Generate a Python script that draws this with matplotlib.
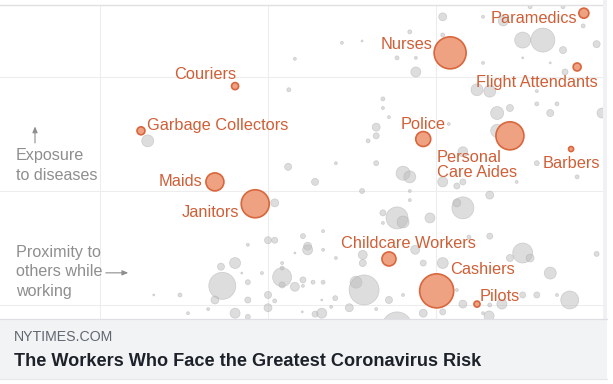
import matplotlib
matplotlib.use("Agg")
import matplotlib.pyplot as plt
from matplotlib.patches import Rectangle
from matplotlib.lines import Line2D

# ---------------- data ----------------
# Highlighted occupations: proximity score (x), exposure score (y), workers (thousands)
hl_names = ["Paramedics", "Nurses", "Flight Attendants", "Couriers", "Garbage Collectors",
            "Police", "Personal\nCare Aides", "Barbers", "Maids", "Janitors",
            "Childcare Workers", "Cashiers", "Pilots"]
hl_x = [97.0, 77.1, 96.0, 45.1, 31.1, 73.1, 86.0, 95.1, 42.1, 48.1, 68.0, 75.1, 81.1]
hl_y = [89.0, 80.3, 77.2, 73.0, 63.2, 61.4, 62.1, 59.2, 52.0, 47.2, 35.1, 28.1, 25.2]
hl_emp = [300, 3070, 190, 150, 190, 670, 2350, 75, 970, 2350, 590, 3470, 110]

# Other occupations
oth_x = [54.0, 53.1, 32.1, 76.0, 82.0, 85.0, 89.0, 93.9, 71.1, 76.0, 61.0, 64.0, 69.2, 72.0,
         72.0, 87.9, 90.9, 93.9, 98.9, 82.0, 87.9, 92.0, 94.2, 96.9, 81.1, 83.0, 90.0, 67.1,
         67.1, 68.0, 66.1, 66.1, 64.9, 76.9, 84.1, 86.0, 84.1, 90.0, 93.0, 92.0, 99.7, 79.0,
         60.1, 66.1, 70.1, 71.1, 57.0, 76.0, 78.1, 79.0, 90.0, 87.0, 96.0, 64.0, 71.1, 71.1,
         83.0, 79.0, 78.1, 67.1, 69.2, 70.1, 74.1, 67.1, 58.2, 83.0, 79.9, 55.2, 55.9, 55.9,
         58.2, 64.1, 64.1, 60.1, 71.9, 87.9, 89.0, 86.0, 98.9, 76.0, 73.1, 92.0, 55.2, 56.7,
         58.2, 63.1, 64.3, 68.0, 70.1, 78.1, 79.0, 83.0, 84.8, 87.9, 90.0, 93.0, 94.9, 57.0,
         60.0, 62.1, 69.2, 73.1, 76.0, 82.0, 82.9, 66.1, 53.0, 51.0, 47.0, 50.0, 51.0, 54.0,
         43.0, 45.1, 46.1, 49.1, 52.1, 52.1, 52.1, 52.1, 54.0, 55.2, 43.2, 47.0, 42.1, 36.9,
         33.0, 47.0, 50.0, 51.0, 58.0, 50.0, 41.1, 38.1, 45.1, 47.0, 58.0, 55.1, 59.4]
oth_y = [79.0, 72.2, 61.0, 88.2, 88.2, 87.3, 90.4, 90.4, 84.9, 84.2, 82.5, 82.9, 79.2, 79.2,
         76.1, 83.1, 83.1, 80.9, 82.2, 78.1, 79.2, 78.1, 76.1, 86.2, 72.2, 71.9, 71.9, 70.2,
         68.2, 66.2, 64.0, 62.1, 61.0, 64.7, 67.1, 68.2, 63.2, 69.1, 69.1, 67.1, 67.1, 58.6,
         56.1, 56.1, 53.9, 53.1, 52.0, 52.0, 51.1, 52.0, 56.1, 52.0, 53.1, 50.0, 50.0, 48.0,
         49.1, 46.3, 47.4, 45.2, 44.1, 43.2, 44.1, 43.0, 41.2, 40.1, 39.9, 40.1, 37.9, 37.1,
         37.1, 36.0, 34.2, 35.3, 37.1, 36.4, 35.3, 35.3, 36.2, 34.2, 34.2, 32.0, 30.5, 30.0,
         30.0, 30.0, 28.3, 26.1, 27.2, 28.3, 25.2, 25.0, 25.2, 27.2, 27.2, 27.2, 26.1, 23.0,
         26.5, 24.4, 20.2, 23.2, 23.5, 23.2, 22.6, 24.1, 55.3, 47.4, 38.2, 39.2, 39.2, 36.4,
         33.4, 34.2, 32.0, 32.0, 34.2, 33.1, 31.1, 29.4, 29.0, 29.2, 29.2, 30.0, 26.1, 27.2,
         27.2, 26.1, 27.2, 25.9, 26.1, 24.4, 24.1, 23.2, 23.2, 22.4, 23.2, 23.5, 24.6]
oth_emp = [27, 48, 430, 190, 27, 300, 48, 48, 48, 48, 27, 12, 48, 27,
           300, 770, 1730, 150, 150, 27, 12, 12, 110, 48, 430, 430, 27, 48,
           27, 27, 190, 110, 48, 27, 510, 150, 510, 48, 48, 150, 300, 300,
           27, 75, 590, 430, 150, 300, 110, 110, 75, 27, 48, 75, 27, 27,
           190, 1450, 190, 110, 1450, 430, 300, 27, 27, 110, 48, 75, 190, 300,
           27, 240, 150, 27, 240, 1200, 190, 150, 75, 360, 110, 430, 110, 48,
           48, 430, 2700, 150, 27, 27, 190, 48, 300, 110, 110, 27, 970, 110,
           75, 190, 2700, 190, 110, 27, 300, 27, 150, 190, 27, 150, 110, 12,
           150, 360, 12, 27, 27, 48, 1080, 110, 240, 27, 2190, 75, 190, 48,
           12, 110, 150, 48, 12, 190, 27, 27, 300, 75, 300, 12, 27]

# label placement (offset in pixels from bubble centre, horizontal alignment)
hl_dx = [-7, -18, 21, 1, 6, 0, -73, -28, -13, -16, -48, 13, 3]
hl_dy = [-4, 10, -14, 13, 7, 16, -28, -13, 2, -7, 17, 23, 9]
hl_ha = ["right", "right", "right", "right", "left", "center", "left", "left",
         "right", "right", "left", "left", "left"]

SIZE_SCALE = 0.1728  # marker area (pt^2) per thousand workers

ORANGE_TXT = "#cf5f37"
ORANGE_FILL = "#eea282"
ORANGE_EDGE = "#d9663d"
GRAY_TXT = "#8e8e8e"
FONT = ["Liberation Sans", "DejaVu Sans"]

# ---------------- figure ----------------
W, H = 613, 384
fig = plt.figure(figsize=(W / 100, H / 100), dpi=100)
fig.patch.set_facecolor("white")

ax = fig.add_axes([0, 65 / H, 603 / W, 314 / H])
ax.set_xlim(10.12, 99.85)
ax.set_ylim(21.93, 90.79)
ax.set_xticks([25, 50, 75])
ax.set_yticks([25, 50, 75])
ax.tick_params(length=0, labelbottom=False, labelleft=False)
ax.grid(True, color="#ededed", linewidth=0.8)
ax.set_axisbelow(True)
for side in ["left", "right", "bottom"]:
    ax.spines[side].set_visible(False)
ax.spines["top"].set_color("#e0e0e0")
ax.spines["top"].set_linewidth(1.0)

ax.scatter(oth_x, oth_y, s=[e * SIZE_SCALE for e in oth_emp], facecolor="#bdbdbd",
           edgecolor="#ababab", linewidth=0.5, alpha=0.5, zorder=2)
ax.scatter(hl_x, hl_y, s=[e * SIZE_SCALE for e in hl_emp], facecolor=ORANGE_FILL,
           edgecolor=ORANGE_EDGE, linewidth=1.2, zorder=3)

for name, x, y, dx, dy, ha in zip(hl_names, hl_x, hl_y, hl_dx, hl_dy, hl_ha):
    ax.annotate(name, (x, y), xytext=(dx, dy), textcoords="offset pixels",
                ha=ha, va="center_baseline", color=ORANGE_TXT, fontsize=11.8,
                family=FONT, linespacing=0.95, zorder=4)

# axis descriptions
ax.text(16 / 603, 0.489, "Exposure\nto diseases", transform=ax.transAxes, ha="left",
        va="center", color=GRAY_TXT, fontsize=11.6, family=FONT, linespacing=1.42)
ax.annotate("", xy=(35 / 603, 0.622), xytext=(35 / 603, 0.552), xycoords="axes fraction",
            arrowprops=dict(arrowstyle="-|>,head_length=0.35,head_width=0.15",
                            color="#8e8e8e", lw=0.8))
ax.text(16 / 603, 0.150, "Proximity to\nothers while\nworking", transform=ax.transAxes,
        ha="left", va="center", color=GRAY_TXT, fontsize=11.6, family=FONT,
        linespacing=1.35)
ax.annotate("", xy=(131 / 603, 0.147), xytext=(103 / 603, 0.147), xycoords="axes fraction",
            arrowprops=dict(arrowstyle="-|>,head_length=0.35,head_width=0.15",
                            color="#8e8e8e", lw=0.8))

# right border strip of the card
fig.patches.append(Rectangle((603 / W, 65 / H), 4 / W, 319 / H, transform=fig.transFigure,
                             facecolor="#f0f1f3", edgecolor="none", zorder=0))

# footer
fig.patches.append(Rectangle((0, 5 / H), 607 / W, 60 / H, transform=fig.transFigure,
                             facecolor="#f2f3f5", edgecolor="none", zorder=1))
fig.lines.append(Line2D([0, 607 / W], [65 / H, 65 / H], transform=fig.transFigure,
                        color="#dddfe2", lw=0.9))
fig.lines.append(Line2D([0, 607 / W], [5 / H, 5 / H], transform=fig.transFigure,
                        color="#e6e7ea", lw=0.8))
fig.text(14 / W, (H - 337) / H, "NYTIMES.COM", ha="left", va="center", color="#606770",
         fontsize=10.2, family=FONT)
fig.text(14 / W, (H - 361) / H, "The Workers Who Face the Greatest Coronavirus Risk",
         ha="left", va="center", color="#1d2129", fontsize=13.1, fontweight="bold",
         family=FONT)

fig.savefig("out.png", dpi=100, facecolor="white")
